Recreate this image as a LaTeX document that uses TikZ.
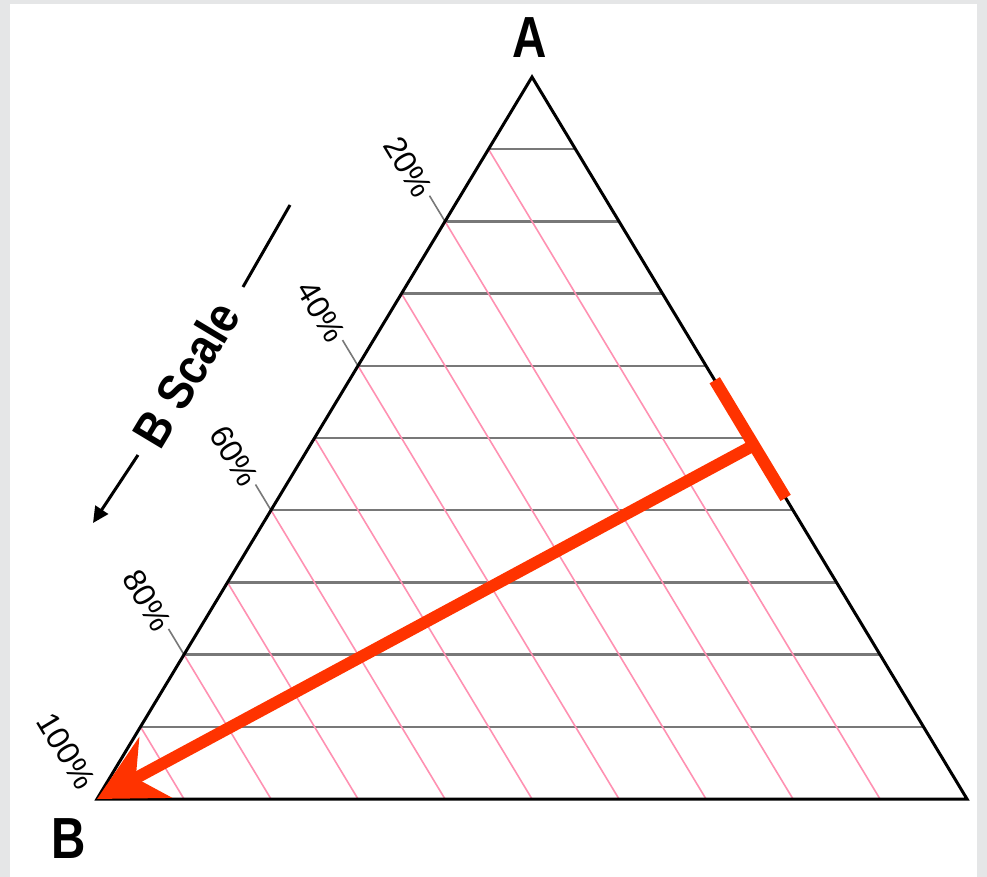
\documentclass[tikz,border=0pt]{standalone}
\usepackage{fontspec}
\setmainfont{Liberation Sans}
\usetikzlibrary{calc,arrows.meta}
\definecolor{redarrow}{RGB}{255,51,0}
\definecolor{pinkline}{RGB}{255,145,178}
\definecolor{gridgray}{RGB}{120,120,120}
\definecolor{framegray}{RGB}{229,230,231}
\begin{document}
\begin{tikzpicture}[x=1pt,y=-1pt,
  gridline/.style={draw=gridgray,line width=2.4pt},
  pinkstyle/.style={draw=pinkline,line width=1.6pt},
  tickline/.style={draw=gridgray,line width=1.6pt},
  sideline/.style={draw=black,line width=3pt,line join=miter},
  pct/.style={font=\fontsize{32}{32}\selectfont,rotate=-59,anchor=east,inner sep=1pt},
  vertexlabel/.style={font=\bfseries\fontsize{58}{58}\selectfont,xscale=0.82,inner sep=0pt},
  redline/.style={draw=redarrow,line width=12pt},
  scaleline/.style={draw=black,line width=3pt}]
\fill[framegray] (0,0) rectangle (987,877);
\fill[white] (10,4) rectangle (977,877);
\useasboundingbox (0,0) rectangle (987,877);
\coordinate (A) at (532,77);
\coordinate (B) at (97,799);
\coordinate (C) at (967,799);
\foreach \k in {1,...,9} {
  \draw[gridline] ($(B)!\k/10!(A)$) -- ($(C)!\k/10!(A)$);
  \draw[pinkstyle] ($(B)!\k/10!(A)$) -- ($(B)!\k/10!(C)$);
}
\foreach \k/\lab in {8/20,6/40,4/60,2/80} {
  \coordinate (P\k) at ($(B)!\k/10!(A)$);
  \coordinate (T\k) at ($(P\k)+(-15.5,-25.7)$);
  \draw[tickline] (P\k) -- (T\k);
  \node[pct] (L\k) at ($(T\k)+(-4,0)$) {\lab\%};
}
\coordinate (T10) at ($(B)+(-9,-12)$);
\node[pct] (L10) at (T10) {100\%};
\draw[sideline] (A) -- (B) -- (C) -- cycle;
\node[vertexlabel] (LA) at (530,38) {A};
\node[vertexlabel] (LB) at (69,839) {B};
% B scale
\coordinate (S1) at (138,455);
\coordinate (S2) at (93,523);
\coordinate (S3) at (243,287);
\coordinate (S4) at (290,205);
\draw[scaleline,-{Triangle[length=16pt,width=15pt]}] (S1) -- (S2);
\draw[scaleline] (S3) -- (S4);
\node[font=\bfseries\fontsize{50}{50}\selectfont,rotate=59,xscale=0.88,inner sep=0pt] (BS) at (186,374) {B Scale};
% red arrow
\coordinate (R1) at ($(C)!0.58!(A)$);
\coordinate (R2) at ($(C)!0.417!(A)$);
\coordinate (J) at ($(C)!0.49!(A)$);
\draw[redline] (R1) -- (R2);
\draw[redline,-{Stealth[length=66pt,width=68pt,inset=22pt]}] (J) -- (B);
\end{tikzpicture}
\end{document}
